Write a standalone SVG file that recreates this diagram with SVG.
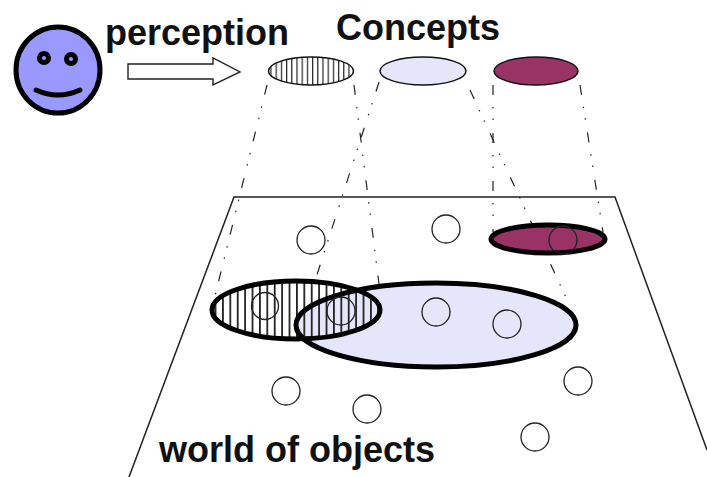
<svg xmlns="http://www.w3.org/2000/svg" width="707" height="477" viewBox="0 0 707 477">
<style>
text{font-family:"Liberation Sans",Arial,sans-serif;font-weight:700;font-size:36px;fill:#111}
.dd{fill:none;stroke:#222;stroke-width:1.2;stroke-dasharray:10 12 1.5 10 1.5 13}
.obj{fill:none;stroke:#222;stroke-width:1.3}
.top{stroke:#111;stroke-width:1.5}
.big{stroke:#000;stroke-width:5}
</style>
<defs>
<pattern id="h1" patternUnits="userSpaceOnUse" width="5.2" height="10"><rect width="1.2" height="10" fill="#222"/></pattern>
<pattern id="h2" patternUnits="userSpaceOnUse" width="7.4" height="10"><rect width="1.8" height="10" fill="#222"/></pattern>
</defs>
<g id="connectors">
<path class="dd" d="M267 85L214 300"/>
<path class="dd" d="M354 85L381 300"/>
<path class="dd" d="M379 82L305 312"/>
<path class="dd" d="M470 90L568 302"/>
<path class="dd" d="M493 85L493 232"/>
<path class="dd" d="M580 85L603 232"/>
</g>
<g id="world"><path d="M129 477L234 197H615L707 450" fill="none" stroke="#222" stroke-width="1.5"/></g>
<g id="concept-extents">
<ellipse cx="296" cy="310" rx="84" ry="29" fill="#fff"/>
<ellipse cx="436" cy="325" rx="140" ry="42" fill="#e6e6fa"/>
<ellipse cx="296" cy="310" rx="84" ry="29" fill="url(#h2)"/>
<ellipse class="big" cx="296" cy="310" rx="84" ry="29" fill="none"/>
<ellipse class="big" cx="436" cy="325" rx="140" ry="42" fill="none"/>
<ellipse cx="548" cy="239" rx="57" ry="14" fill="#993366" stroke="#000" stroke-width="5"/>
</g>
<g id="objects">
<circle class="obj" cx="311" cy="240" r="14"/>
<circle class="obj" cx="446" cy="229" r="14"/>
<circle class="obj" cx="563" cy="240" r="14"/>
<circle class="obj" cx="265" cy="306" r="13.5"/>
<circle class="obj" cx="341" cy="311" r="14"/>
<circle class="obj" cx="436" cy="312" r="14"/>
<circle class="obj" cx="507" cy="324" r="14"/>
<circle class="obj" cx="286" cy="391" r="14"/>
<circle class="obj" cx="367" cy="409" r="14"/>
<circle class="obj" cx="578" cy="381" r="14"/>
<circle class="obj" cx="535" cy="437" r="14"/>
</g>
<g id="face">
<ellipse cx="58" cy="70" rx="42" ry="43" fill="#9999ff" stroke="#000" stroke-width="5"/>
<circle cx="44" cy="58" r="4.500" fill="#9999ff" stroke="#000" stroke-width="5"/>
<circle cx="71" cy="59" r="4.500" fill="#9999ff" stroke="#000" stroke-width="5"/>
<path d="M36 90Q58 100 80 90" fill="none" stroke="#000" stroke-width="5" stroke-linecap="round"/>
</g>
<g id="perception-arrow"><path d="M128 64H213V58L240 72L213 85V79H128Z" fill="#fff" stroke="#222" stroke-width="1.4"/></g>
<g id="concept-hatched">
<ellipse cx="311" cy="71" rx="42.500" ry="14" fill="#fff"/>
<ellipse class="top" cx="311" cy="71" rx="42.500" ry="14" fill="url(#h1)"/>
</g>
<g id="concept-lavender"><ellipse class="top" cx="423" cy="71" rx="43" ry="14" fill="#e6e6fa"/></g>
<g id="concept-purple"><ellipse class="top" cx="536" cy="71" rx="42" ry="14" fill="#993366"/></g>
<text x="105" y="45">perception</text>
<text x="336" y="40">Concepts</text>
<text x="159" y="462">world of objects</text>
</svg>
